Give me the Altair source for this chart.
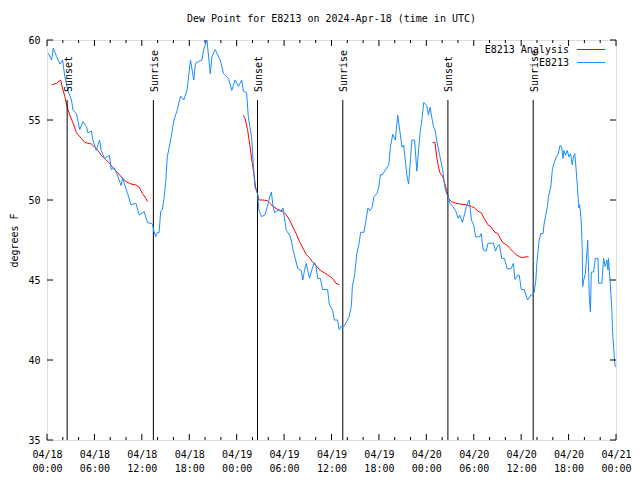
import altair as alt
import pandas as pd

TITLE = "Dew Point for E8213 on 2024-Apr-18 (time in UTC)"
Y_TITLE = "degrees F"
SERIES_NAMES = ["E8213 Analysis", "E8213"]
SERIES_COLORS = ["#ff0000", "#1a8cff"]
MONO = "DejaVu Sans Mono"

# observed dew point (hours since 2024-04-18 00:00 UTC)
obs_hours = [
    0.16, 0.59, 0.79, 1.22, 1.63, 1.97, 2.26, 2.67, 3.10, 3.30, 3.73, 3.93, 4.14, 4.55, 4.98,
    5.18, 5.61, 5.81, 6.24, 6.65, 6.86, 7.28, 7.90, 8.12, 8.53, 8.95, 9.37, 9.57, 9.79, 10.20,
    10.63, 11.25, 11.67, 12.30, 12.71, 13.34, 13.55, 13.76, 13.96, 14.18, 14.39, 14.59, 14.81,
    15.02, 15.22, 15.65, 16.06, 16.47, 16.90, 17.31, 17.73, 18.16, 18.57, 18.78, 19.20, 19.61,
    19.82, 20.24, 20.66, 20.87, 21.29, 21.92, 22.33, 22.96, 23.38, 23.80, 24.22, 24.63, 24.84,
    25.26, 25.47, 25.88, 26.10, 26.31, 26.64, 26.81, 27.14, 27.57, 27.89, 28.19, 28.39, 28.61,
    28.82, 29.23, 29.65, 29.86, 30.28, 30.70, 30.90, 31.12, 31.33, 31.74, 32.16, 32.37, 32.58,
    32.79, 33.00, 33.21, 33.63, 33.84, 34.04, 34.25, 34.59, 34.88, 35.51, 35.72, 36.14, 36.35,
    36.76, 36.98, 37.18, 37.60, 38.02, 38.23, 38.52, 38.64, 38.93, 39.18, 39.49, 39.69, 40.11,
    40.31, 40.61, 40.87, 41.15, 41.37, 41.78, 41.99, 42.20, 42.41, 42.82, 43.25, 43.45, 43.75,
    44.08, 44.38, 44.63, 44.92, 45.13, 45.55, 45.76, 45.96, 46.17, 46.51, 46.80, 47.01, 47.21,
    47.43, 47.68, 48.06, 48.27, 48.47, 48.68, 48.90, 49.10, 49.40, 49.65, 49.81, 50.06, 50.35,
    50.56, 50.78, 50.98, 51.40, 51.73, 52.03, 52.23, 52.57, 52.86, 53.07, 53.41, 53.58, 53.70,
    53.99, 54.24, 54.74, 54.96, 55.17, 55.58, 55.80, 56.21, 56.50, 56.75, 56.96, 57.25, 57.55,
    57.88, 58.22, 58.72, 59.01, 59.22, 59.56, 59.76, 60.01, 60.39, 60.60, 60.82, 61.23, 61.44,
    61.64, 61.86, 61.98, 62.27, 62.48, 62.77, 62.90, 63.32, 63.45, 63.74, 63.95, 64.15, 64.45,
    64.71, 64.91, 65.12, 65.28, 65.41, 65.62, 65.83, 66.04, 66.25, 66.46, 66.66, 66.79, 66.96,
    67.16, 67.29, 67.41, 67.59, 67.72, 67.79, 67.92, 68.13, 68.34, 68.42, 68.54, 68.63, 68.76,
    68.88, 69.17, 69.39, 69.72, 69.80, 70.22, 70.43, 70.64, 70.85, 70.98, 71.05, 71.27, 71.48,
    71.56, 71.68, 71.81, 71.90, 72.0,
]
obs_values = [
    59.17, 58.75, 59.5, 58.96, 58.5, 58.75, 57.7, 56.8, 56.25, 55.6, 55.4, 54.9, 54.4, 54.9, 54.6,
    54.2, 54.3, 53.75, 53.1, 53.75, 53.1, 52.6, 52.8, 51.9, 52.0, 51.5, 50.9, 51.4, 51.0, 50.4,
    49.7, 49.8, 49.06, 49.27, 48.6, 48.5, 48.0, 47.7, 47.96, 47.96, 49.3, 49.4, 50.1,
    51.1, 52.7, 53.75, 55.0, 55.6, 56.5, 56.25, 56.9, 58.75, 57.5, 58.54, 58.65, 58.75,
    59.4, 60.0, 57.9, 58.96, 59.4, 58.75, 57.9, 57.6, 56.85, 57.5, 57.1, 57.5, 56.8,
    56.7, 55.2, 53.96, 52.3, 50.8, 50.4, 49.4, 48.96, 49.06, 49.6, 50.2, 50.5, 49.58,
    49.2, 49.38, 49.27, 49.5, 48.1, 47.8, 47.5, 46.9, 46.5, 45.7, 45.6, 45.0, 45.6,
    46.04, 45.6, 45.1, 45.83, 46.1, 45.9, 45.1, 45.1, 44.4, 44.4, 43.5, 43.1, 42.5,
    42.5, 41.9, 42.08, 42.1, 42.5, 42.7, 43.4, 44.6, 45.3, 46.6, 47.3, 47.98, 47.98,
    48.6, 49.5, 49.33, 49.58, 50.2, 50.42, 50.83, 51.6, 51.56, 51.88, 52.2, 53.3, 54.1,
    53.75, 55.3, 54.38, 53.3, 53.44, 51.5, 51.0, 52.3, 53.75, 53.75, 51.8, 53.1, 54.2,
    55.0, 56.1, 55.9, 55.3, 55.8, 55.2, 54.6, 54.38, 53.5, 52.9, 52.5, 51.9, 50.8,
    50.4, 50.2, 49.8, 49.58, 49.3, 48.85, 49.06, 48.6, 49.17, 49.6, 50.0, 49.38, 48.75,
    48.44, 47.7, 47.7, 47.9, 46.9, 46.8, 47.3, 47.3, 47.3, 46.8, 47.08, 47.2, 46.35,
    46.35, 45.7, 45.7, 46.04, 45.04, 45.3, 45.3, 44.4, 44.4, 44.06, 43.75, 44.06, 44.06,
    44.2, 45.0, 46.04, 47.5, 47.9, 47.9, 48.5, 49.6, 50.2, 50.8, 51.9, 52.3, 52.7,
    52.9, 53.4, 53.33, 52.6, 53.1, 52.8, 53.1, 52.7, 52.9, 52.2, 52.8, 52.9, 51.9,
    50.5, 49.5, 49.7, 48.75, 47.1, 44.6, 45.0, 45.4, 46.9, 47.5, 45.42, 43.85, 43.0,
    45.5, 45.5, 46.35, 46.35, 44.8, 44.8, 46.35, 45.83, 46.25, 45.63, 46.35, 44.8, 43.1,
    41.8, 40.94, 40.0, 39.6, 39.6,
]

# analysis, three separate evening/night runs
ana1_hours = [0.59, 1.22, 1.72, 1.97, 2.26, 2.55, 2.89, 3.30, 3.73, 4.35, 4.77, 5.61, 6.02, 6.44,
              6.86, 7.28, 7.90, 8.53, 8.95, 9.57, 10.0, 10.63, 11.25, 11.67, 12.08, 12.51, 12.71]
ana1_values = [57.2, 57.3, 57.5, 56.98, 56.46, 55.8, 55.3, 54.8, 54.2, 53.85, 53.6, 53.5, 53.3, 53.1,
               52.8, 52.6, 52.3, 51.9, 51.7, 51.35, 51.15, 51.0, 50.94, 50.8, 50.4, 50.1, 49.9]
ana2_hours = [24.84, 25.06, 25.38, 25.68, 25.97, 26.22, 26.39, 26.64, 26.81, 27.35, 27.89, 28.19,
              28.61, 29.23, 29.86, 30.28, 30.70, 31.12, 31.53, 31.96, 32.37, 32.79, 33.21, 33.63,
              34.04, 34.59, 35.09, 35.72, 36.14, 36.55, 36.98]
ana2_values = [55.3, 55.1, 54.4, 53.4, 52.3, 51.5, 50.8, 50.4, 50.0, 50.0, 49.96, 49.8,
               49.6, 49.4, 49.3, 49.06, 48.75, 48.3, 47.9, 47.4, 47.0, 46.6, 46.4, 46.1,
               45.9, 45.6, 45.45, 45.25, 45.1, 44.8, 44.7]
ana3_hours = [48.81, 49.10, 49.31, 49.52, 49.72, 50.06, 50.35, 50.56, 50.78, 51.19, 51.73, 52.23,
              53.07, 53.70, 54.12, 54.54, 54.96, 55.37, 55.80, 56.21, 56.63, 57.05, 57.47, 57.75,
              58.18, 58.51, 58.93, 59.35, 59.76, 60.19, 60.60, 60.94]
ana3_values = [53.6, 53.6, 52.7, 52.1, 51.7, 51.5, 51.0, 50.6, 50.1, 49.9, 49.8, 49.75,
               49.7, 49.6, 49.5, 49.3, 49.2, 48.8, 48.45, 48.3, 48.0, 47.9, 47.5, 47.3,
               47.2, 47.0, 46.8, 46.6, 46.45, 46.4, 46.45, 46.45]

event_hours = [2.55, 13.46, 26.64, 37.43, 50.73, 61.52]
event_labels = ["Sunset", "Sunrise", "Sunset", "Sunrise", "Sunset", "Sunrise"]

x_major = list(range(0, 73, 6))
x_minor = [h for h in range(0, 73, 2) if h % 6]
y_major = [35, 40, 45, 50, 55, 60]

W, H = 569, 400

obs_df = pd.DataFrame({"h": obs_hours, "v": obs_values})
ana_df = pd.concat([
    pd.DataFrame({"h": hs, "v": vs, "seg": i})
    for i, (hs, vs) in enumerate([(ana1_hours, ana1_values), (ana2_hours, ana2_values),
                                  (ana3_hours, ana3_values)])
])
ev_df = pd.DataFrame({"h": event_hours, "label": event_labels})

xs = alt.Scale(domain=[0, 72], nice=False, zero=False)
ys = alt.Scale(domain=[35, 60], nice=False, zero=False)

x_axis = alt.Axis(
    values=x_major, ticks=False, tickSize=0, domain=False, grid=False, title=None,
    labelExpr="['04/' + format(18 + floor(datum.value / 24), '02d'), format(datum.value % 24, '02d') + ':00']",
    labelFont=MONO, labelFontSize=10, labelColor="black", labelPadding=9,
    labelLineHeight=14, labelFlush=False, labelOverlap=False, labelBaseline="top",
)
y_axis = alt.Axis(
    values=y_major, ticks=False, tickSize=0, domain=False, grid=False, title=Y_TITLE,
    titleFont=MONO, titleFontSize=10, titleFontWeight="normal", titleColor="black",
    titleX=-33, titleY=H / 2, titleAngle=270, titleAlign="center", titleBaseline="middle",
    labelFont=MONO, labelFontSize=10, labelColor="black", labelPadding=7,
)

def X():
    return alt.X("h:Q", scale=xs, axis=x_axis)

def Y():
    return alt.Y("v:Q", scale=ys, axis=y_axis)

analysis = alt.Chart(ana_df).mark_line(color=SERIES_COLORS[0], strokeWidth=1).encode(
    x=X(), y=Y(), detail="seg:N")
observed = alt.Chart(obs_df).mark_line(color=SERIES_COLORS[1], strokeWidth=1).encode(
    x=X(), y=Y())

ev_rules = alt.Chart(ev_df).mark_rule(color="black", strokeWidth=1).encode(
    x=X(), y=alt.value(60), y2=alt.value(H))
ev_text = alt.Chart(ev_df).mark_text(
    angle=270, align="left", baseline="middle", dy=1.5, font=MONO, fontSize=10, color="black"
).encode(x=X(), y=alt.value(52), text="label:N")

def xticks(vals, length):
    d = pd.DataFrame({"h": vals})
    bot = alt.Chart(d).mark_rule(color="black").encode(x=X(), y=alt.value(H), y2=alt.value(H - length))
    top = alt.Chart(d).mark_rule(color="black").encode(x=X(), y=alt.value(0), y2=alt.value(length))
    return [bot, top]

yd = pd.DataFrame({"v": y_major})
ytick_l = alt.Chart(yd).mark_rule(color="black").encode(y=Y(), x=alt.value(0), x2=alt.value(6))
ytick_r = alt.Chart(yd).mark_rule(color="black").encode(y=Y(), x=alt.value(W), x2=alt.value(W - 6))

legend_layers = []
for i, (name, col) in enumerate(zip(SERIES_NAMES, SERIES_COLORS)):
    ld = pd.DataFrame({"name": [name]})
    ypos = 9.5 + 13 * i
    legend_layers.append(alt.Chart(ld).mark_text(
        align="right", baseline="middle", font=MONO, fontSize=10, color="black"
    ).encode(x=alt.value(W - 47), y=alt.value(ypos), text="name:N"))
    legend_layers.append(alt.Chart(ld).mark_rule(color=col, strokeWidth=1).encode(
        x=alt.value(W - 39), x2=alt.value(W - 11), y=alt.value(ypos)))

chart = alt.layer(
    analysis, ev_rules, observed, ev_text,
    *xticks(x_major, 6), *xticks(x_minor, 3), ytick_l, ytick_r,
    *legend_layers,
).properties(
    width=W, height=H,
    title=alt.TitleParams(TITLE, font=MONO, fontSize=10, fontWeight="normal", color="black",
                          anchor="middle", offset=11),
    autosize=alt.AutoSizeParams(type="none"),
    padding={"left": 39, "top": 32, "right": 16, "bottom": 36},
).configure_view(stroke="black", strokeWidth=1).configure(background="white")

chart.save("out.html", embed_options={"renderer": "svg", "actions": False})
